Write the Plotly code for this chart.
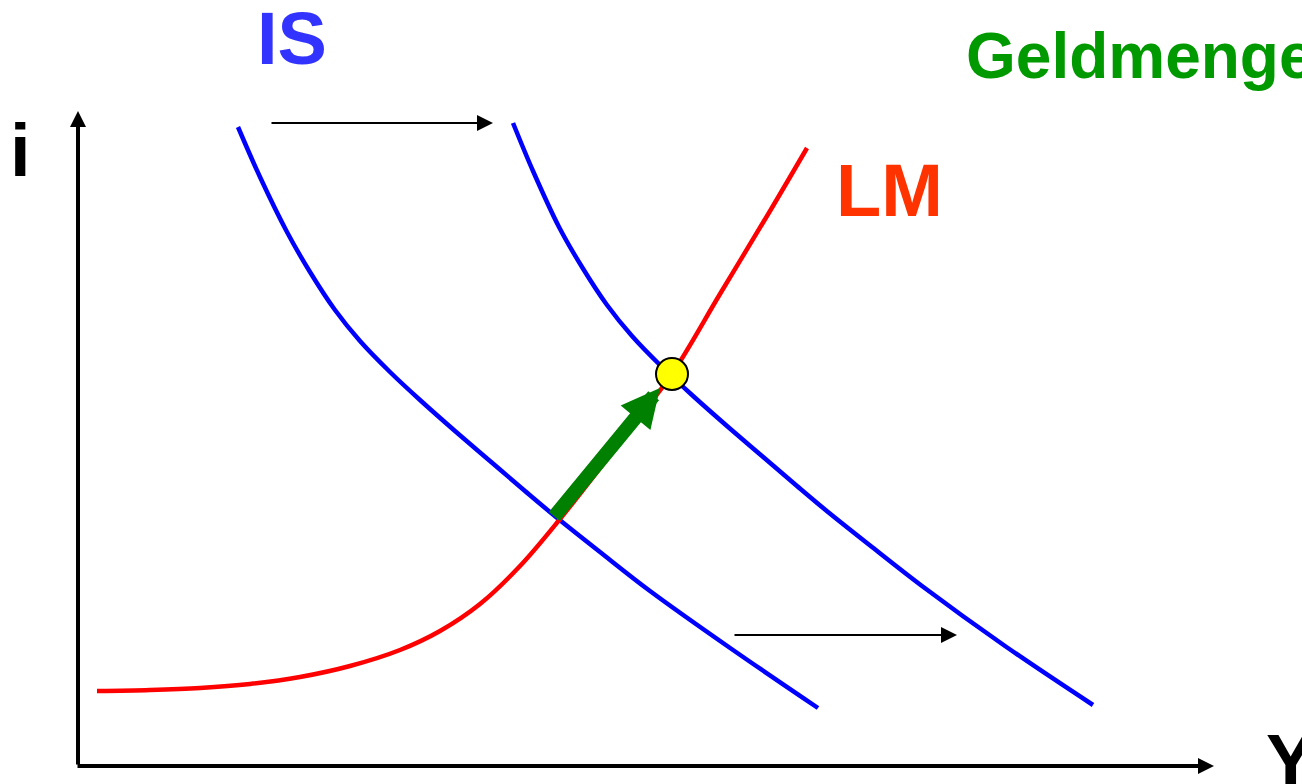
import plotly.graph_objects as go

# ---- data (in picture units) ----
is1_x = [238, 260, 287, 310, 335, 360, 390, 420, 455, 490, 525, 556, 600, 650, 733, 818]
is1_y = [127, 177, 232, 272, 310, 341, 372, 400, 431, 461, 491, 517, 552, 591, 650, 708]

is2_x = [513, 533, 559, 582, 607, 632, 662, 692, 727, 762, 797, 828, 872, 922, 1005, 1093]
is2_y = [123, 171, 227, 267, 305, 336, 367, 395, 426, 456, 486, 512, 547, 586, 646, 705]

lm_x = [97, 150, 200, 250, 300, 350, 400, 440, 480, 520, 560, 600, 640, 672, 720, 770, 807]
lm_y = [691, 690, 688, 684, 677, 666, 650, 631, 604, 566, 519, 468, 416, 374, 294, 211, 148]

equilibrium = (672, 374)

# arrows: (tail_x, tail_y, tip_x, tip_y)
axis_i = (78, 766, 78, 111)
axis_y = (76, 766, 1214, 766)
shift_top = (270, 123, 493, 123)
shift_bottom = (733, 635, 957, 635)
lm_move = (553, 518, 660, 388)

labels = [
    ("IS", 256, 38, 74, "#3333FF"),
    ("LM", 835, 190, 74, "#FF3300"),
    ("Geldmengenerhöhung", 965, 56, 64, "#009900"),
    ("i", 9, 150, 74, "#000000"),
    ("Y", 1265, 760, 74, "#000000"),
]

FONT = "Liberation Sans, Arial, sans-serif"

fig = go.Figure()
for xs, ys, col in [(is1_x, is1_y, "#0000FF"), (is2_x, is2_y, "#0000FF"), (lm_x, lm_y, "#FF0000")]:
    fig.add_trace(go.Scatter(x=xs, y=ys, mode="lines",
                             line=dict(color=col, width=4.5, shape="spline", smoothing=1.0),
                             hoverinfo="skip", showlegend=False))


def arrow(a, color, width, size):
    tx, ty, hx, hy = a
    fig.add_annotation(x=hx, y=hy, ax=tx, ay=ty, xref="x", yref="y", axref="x", ayref="y",
                       text="", showarrow=True, arrowhead=2, arrowsize=size, arrowwidth=width,
                       arrowcolor=color, standoff=0, startstandoff=0)


arrow(axis_i, "#000000", 4, 0.8)
arrow(axis_y, "#000000", 4, 0.8)
arrow(shift_top, "#000000", 2, 1.6)
arrow(shift_bottom, "#000000", 2, 1.6)
arrow(lm_move, "#008000", 14, 0.55)

fig.add_trace(go.Scatter(x=[equilibrium[0]], y=[equilibrium[1]], mode="markers",
                         marker=dict(size=32, color="#FFFF00", line=dict(color="#000000", width=2)),
                         hoverinfo="skip", showlegend=False))

for txt, x, y, size, color in labels:
    fig.add_annotation(x=x, y=y, xref="x", yref="y", text="<b>" + txt + "</b>", showarrow=False,
                       xanchor="left", yanchor="middle", borderpad=0,
                       font=dict(family=FONT, size=size, color=color))

fig.update_layout(
    width=1302, height=784, margin=dict(l=0, r=0, t=0, b=0),
    paper_bgcolor="white", plot_bgcolor="white",
    xaxis=dict(range=[0, 1302], visible=False, fixedrange=True),
    yaxis=dict(range=[784, 0], visible=False, fixedrange=True),
)

fig.write_html("out.html", config={"displayModeBar": False},
               post_script="document.body.style.margin='0px';document.body.style.overflow='hidden';")
